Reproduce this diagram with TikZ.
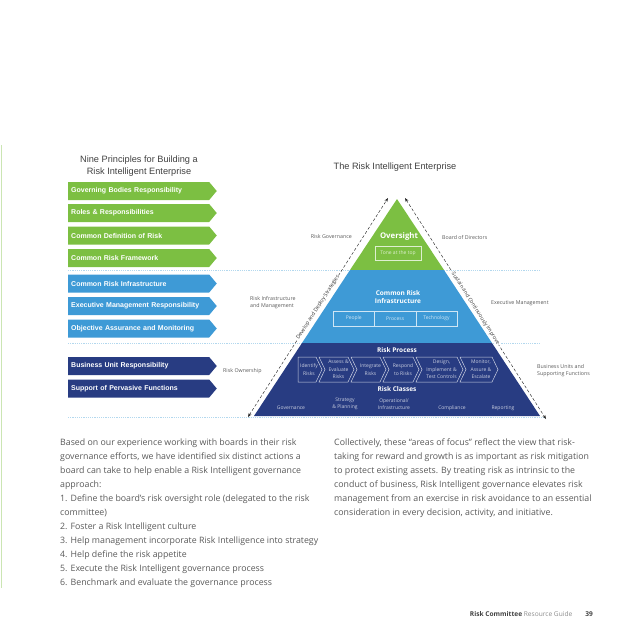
\documentclass[tikz,border=0pt]{standalone}
\usepackage{fontspec}
\setmainfont{Open Sans}
\newfontfamily\arialfont{Liberation Sans}
\usepackage{tikz}
\usetikzlibrary{arrows.meta,shapes.symbols,calc}
\definecolor{RiGreen}{HTML}{7CBF42}
\definecolor{RiBlue}{HTML}{3E9AD6}
\definecolor{RiNavy}{HTML}{283C82}
\definecolor{RiText}{HTML}{595959}
\definecolor{RiRule}{HTML}{B3D8EE}
\tikzset{
  principle/.style={signal, signal to=east, signal pointer angle=100, anchor=west,
    text width=135pt, minimum height=18pt, inner xsep=3pt, inner ysep=0pt, align=left,
    text=white, font=\arialfont\fontsize{7}{8}\selectfont\bfseries},
  sidelabel/.style={font=\fontsize{5.3}{7}\selectfont, text=RiText, align=left, inner sep=0pt},
  flowarrow/.style={{Stealth[length=4pt,width=3pt]}-{Stealth[length=4pt,width=3pt]},
    line width=0.45pt, densely dashed, draw=black!85},
  arrowlabel/.style={font=\fontsize{5.3}{6}\selectfont, fill=white, inner sep=0.6pt, sloped, text=black!80}
}

\begin{document}
\begin{tikzpicture}[x=1pt, y=-1pt,
  headtitle/.style={font=\arialfont\fontsize{9.2}{12.7}\selectfont, text=black!75, align=center},
  tierhead/.style={font=\fontsize{6.5}{8.5}\selectfont\bfseries, text=white, align=center},
  inbox/.style={draw=white!75!#1, line width=0.5pt},
  intext/.style={font=\fontsize{5}{7.5}\selectfont, text=white!75!#1, align=center, inner sep=0pt},
  sepline/.style={draw=RiRule, line width=0.6pt, dash pattern=on 1.2pt off 1pt},
  bodytext/.style={font=\fontsize{8.8}{14}\selectfont, text=RiText, align=left, inner sep=0pt, anchor=north west}
]
\useasboundingbox (0,0) rectangle (638,638);
\draw[draw=RiGreen!40, line width=1.5pt] (1.5,145) -- (1.5,588);

% titles
\node[headtitle] (tleft) at (139,166) {Nine Principles for Building a\\Risk Intelligent Enterprise};
\node[headtitle] (tright) at (395,167) {The Risk Intelligent Enterprise};

% separators between the three tiers
\draw[sepline] (68,270) -- (540,270);
\draw[sepline] (68,343) -- (540,343);
\draw[sepline] (68,417) -- (545,417);

% nine principles
\node[principle, fill=RiGreen] (p1) at (68,191) {Governing Bodies Responsibility};
\node[principle, fill=RiGreen] (p2) at (68,213) {Roles \& Responsibilities};
\node[principle, fill=RiGreen] (p3) at (68,235.5) {Common Definition of Risk};
\node[principle, fill=RiGreen] (p4) at (68,258) {Common Risk Framework};
\node[principle, fill=RiBlue] (p5) at (68,283.5) {Common Risk Infrastructure};
\node[principle, fill=RiBlue] (p6) at (68,306) {Executive Management Responsibility};
\node[principle, fill=RiBlue] (p7) at (68,328.5) {Objective Assurance and Monitoring};
\node[principle, fill=RiNavy] (p8) at (68,366) {Business Unit Responsibility};
\node[principle, fill=RiNavy] (p9) at (68,388.5) {Support of Pervasive Functions};

% pyramid
\fill[RiGreen] (397,199) -- (444,270) -- (350,270) -- cycle;
\fill[RiBlue] (350,270) -- (444,270) -- (492,343) -- (302,343) -- cycle;
\fill[RiNavy] (302,343) -- (492,343) -- (540,416) -- (254,416) -- cycle;

% top tier
\node[tierhead, font=\fontsize{7.8}{8}\selectfont\bfseries] (over) at (399,236) {Oversight};
\draw[inbox=RiGreen] (375,246) rectangle (421,260);
\node[intext=RiGreen] (tone) at (398,253) {Tone at the top};

% middle tier
\node[tierhead] (infra) at (398,297) {Common Risk\\Infrastructure};
\draw[inbox=RiBlue] (333,311) rectangle (457,326);
\draw[inbox=RiBlue] (374.5,311) -- (374.5,326) (416,311) -- (416,326);
\node[intext=RiBlue] (people) at (353.8,318.5) {People};
\node[intext=RiBlue] (process) at (395.2,318.5) {Process};
\node[intext=RiBlue] (tech) at (436.5,318.5) {Technology};

% bottom tier
\node[tierhead] (rproc) at (397,350) {Risk Process};
\foreach \l/\t/\n/\txt [count=\i] in {
  298/322/0/{Identify\\Risks},
  319/354/6/{Assess \&\\Evaluate\\Risks},
  351/386/6/{Integrate\\Risks},
  383/419/6/{Respond\\to Risks},
  416/463/6/{Design,\\Implement \&\\Test Controls},
  460/498/6/{Monitor,\\Assure \&\\Escalate}} {
  \draw[inbox=RiNavy] (\l,357) -- ({\t-6},357) -- (\t,369.5) -- ({\t-6},382)
    -- (\l,382) -- ({\l+\n},369.5) -- cycle;
  \node[intext=RiNavy] (step\i) at ({(\l+\t)/2+\n/2-1},369.5) {\txt};
}
\node[tierhead] (rclass) at (397,389) {Risk Classes};
\node[intext=RiNavy] (gov) at (291,408) {Governance};
\node[intext=RiNavy] (strat) at (345,404) {Strategy\\\& Planning};
\node[intext=RiNavy] (oper) at (394,404) {Operational/\\Infrastructure};
\node[intext=RiNavy] (compl) at (452,408) {Compliance};
\node[intext=RiNavy] (report) at (503,408) {Reporting};

% side labels
\node[sidelabel, anchor=east] (lgov) at (352,237) {Risk Governance};
\node[sidelabel, anchor=west] (lboard) at (442,237) {Board of Directors};
\node[sidelabel, anchor=west] (linfra) at (250,303) {Risk Infrastructure\\and Management};
\node[sidelabel, anchor=west] (lexec) at (491,303) {Executive Management};
\node[sidelabel, anchor=west] (lown) at (223,371) {Risk Ownership};
\node[sidelabel, anchor=west] (lbu) at (537,371) {Business Units and\\Supporting Functions};

% two-way arrows along the flanks
\coordinate (lowL) at (248,417);
\coordinate (topL) at (388,198);
\coordinate (topR) at (405,198);
\coordinate (lowR) at (546,419);
\draw[flowarrow] (lowL) -- node[arrowlabel]{Develop and Deploy Strategies} (topL);
\draw[flowarrow] (topR) -- node[arrowlabel]{Sustain and Continuously Improve} (lowR);

% text below the figure
\node[bodytext] (bleft) at (60,439) {Based on our experience working with boards in their risk\\
governance efforts, we have identified six distinct actions a\\
board can take to help enable a Risk Intelligent governance\\
approach:\\
1. Define the board’s risk oversight role (delegated to the risk\\
committee)\\
2. Foster a Risk Intelligent culture\\
3. Help management incorporate Risk Intelligence into strategy\\
4. Help define the risk appetite\\
5. Execute the Risk Intelligent governance process\\
6. Benchmark and evaluate the governance process};
\node[bodytext] (bright) at (334,439) {Collectively, these “areas of focus” reflect the view that risk-\\
taking for reward and growth is as important as risk mitigation\\
to protect existing assets. By treating risk as intrinsic to the\\
conduct of business, Risk Intelligent governance elevates risk\\
management from an exercise in risk avoidance to an essential\\
consideration in every decision, activity, and initiative.};

\node[anchor=east, inner sep=0pt, font=\fontsize{6.6}{8}\selectfont, text=black!75] (foot) at (593,614)
  {\textbf{Risk Committee} {\color{black!45}Resource Guide}\hspace{13pt}\textbf{39}};
\end{tikzpicture}
\end{document}
